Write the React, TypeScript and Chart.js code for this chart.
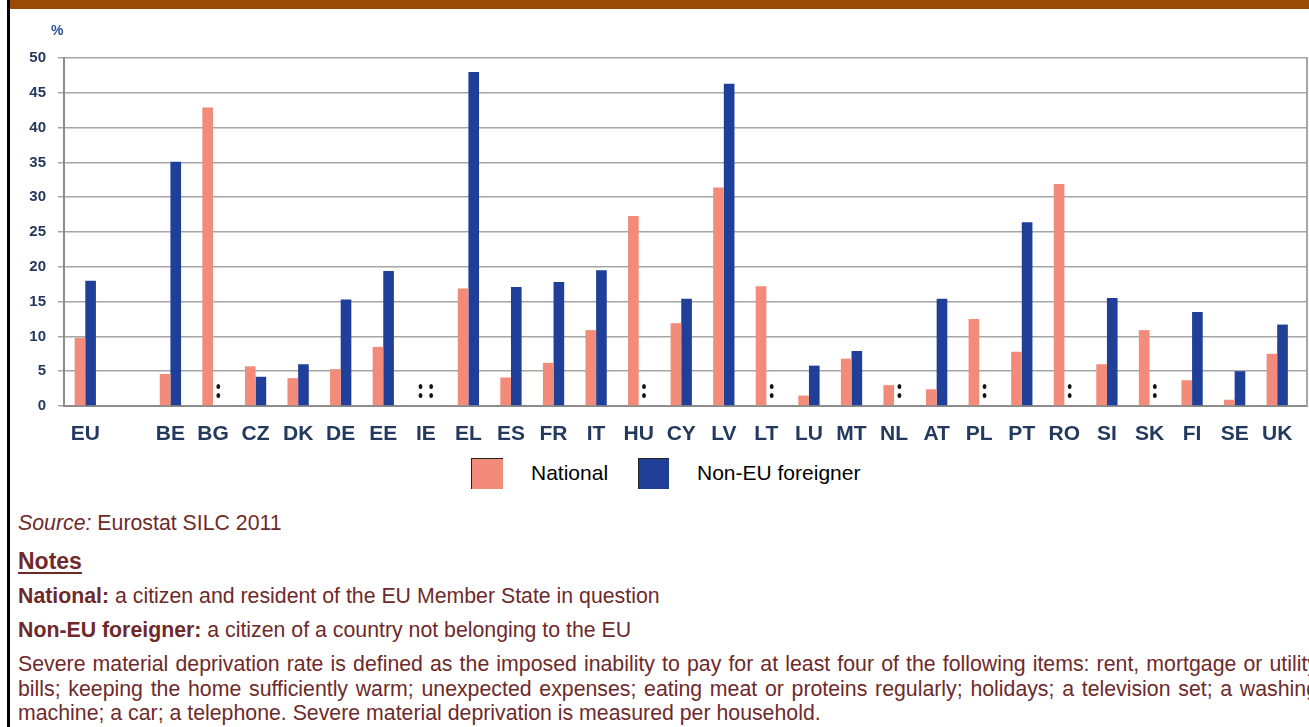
import React, { useEffect, useRef } from 'react';
import { Chart, registerables } from 'chart.js';

Chart.register(...registerables);

// ---- data ----
const countries = ['EU', '', 'BE', 'BG', 'CZ', 'DK', 'DE', 'EE', 'IE', 'EL', 'ES', 'FR', 'IT', 'HU', 'CY', 'LV', 'LT', 'LU', 'MT', 'NL', 'AT', 'PL', 'PT', 'RO', 'SI', 'SK', 'FI', 'SE', 'UK'];
// null = not available (shown as ":")
const nationalValues = [9.8, null, 4.6, 42.9, 5.7, 4.0, 5.3, 8.5, null, 16.9, 4.1, 6.2, 10.9, 27.3, 11.9, 31.4, 17.2, 1.5, 6.8, 3.0, 2.4, 12.5, 7.8, 31.9, 6.0, 10.9, 3.7, 0.9, 7.5];
const nonEuValues = [18.0, null, 35.1, null, 4.2, 6.0, 15.3, 19.4, null, 48.0, 17.1, 17.8, 19.5, null, 15.4, 46.3, null, 5.8, 7.9, null, 15.4, null, 26.4, null, 15.5, null, 13.5, 5.0, 11.7];
const yTicks = [0, 5, 10, 15, 20, 25, 30, 35, 40, 45, 50];
const seriesLabels = ['National', 'Non-EU foreigner'];
const seriesColors = ['#f28b7a', '#1f3f99'];
const unitLabel = '%';
const sourceText = 'Eurostat SILC 2011';

// ---- styles ----
const FONT = '"Liberation Sans", Arial, Helvetica, sans-serif';
const TICK_COLOR = '#23395d';
const GRID_COLOR = '#a6a6a6';
const AXIS_COLOR = '#8c8c8c';
const NOTE_COLOR = '#6e2a2a';
const CAT_PCT = 0.5;

const naPlugin = {
  id: 'naMarks',
  afterDatasetsDraw(chart: any) {
    const xs = chart.scales.x;
    const ys = chart.scales.y;
    const ctx = chart.ctx;
    const base = ys.getPixelForValue(0);
    const unit = xs.getPixelForValue(1) - xs.getPixelForValue(0);
    const w = (unit * CAT_PCT) / 2;
    ctx.save();
    ctx.fillStyle = '#111';
    chart.data.datasets.forEach((ds: any, di: number) => {
      ds.data.forEach((pt: any, i: number) => {
        if (countries[i] === '' || pt.y !== null) return;
        const cx = xs.getPixelForValue(i) + (di === 0 ? -w / 2 : w / 2);
        [base - 19.5, base - 10.5].forEach((cy) => {
          ctx.beginPath();
          ctx.ellipse(cx, cy, 1.9, 2.6, 0, 0, Math.PI * 2);
          ctx.fill();
        });
      });
    });
    const { right, top, bottom } = chart.chartArea;
    ctx.strokeStyle = GRID_COLOR;
    ctx.lineWidth = 2;
    ctx.beginPath();
    ctx.moveTo(right, top - 1);
    ctx.lineTo(right, bottom);
    ctx.stroke();
    ctx.restore();
  },
};

function BarChart() {
  const ref = useRef<HTMLCanvasElement | null>(null);
  useEffect(() => {
    if (!ref.current) return;
    const mk = (vals: (number | null)[]) => vals.map((v, i) => ({ x: i, y: v }));
    const chart = new Chart(ref.current, {
      type: 'bar',
      data: {
        datasets: [
          { label: seriesLabels[0], data: mk(nationalValues) as any, backgroundColor: seriesColors[0], borderWidth: 0, categoryPercentage: CAT_PCT, barPercentage: 1 },
          { label: seriesLabels[1], data: mk(nonEuValues) as any, backgroundColor: seriesColors[1], borderWidth: 0, categoryPercentage: CAT_PCT, barPercentage: 1 },
        ],
      },
      options: {
        animation: false,
        responsive: true,
        maintainAspectRatio: false,
        layout: { padding: { top: 58, right: 2, left: 0, bottom: 0 } },
        plugins: { legend: { display: false }, tooltip: { enabled: false } },
        scales: {
          x: {
            type: 'linear',
            offset: false,
            min: -0.5,
            max: 28.7,
            grid: { display: false, offset: false },
            border: { display: true, color: AXIS_COLOR, width: 2 },
            afterBuildTicks: (s: any) => { s.ticks = countries.map((_, i) => ({ value: i })); },
            afterFit: (s: any) => { s.height = 44; },
            ticks: {
              autoSkip: false,
              maxRotation: 0,
              minRotation: 0,
              padding: 8,
              color: TICK_COLOR,
              font: { family: FONT, size: 21, weight: 'bold' },
              callback: (v: any) => countries[v as number] ?? '',
            },
          },
          y: {
            min: 0,
            max: 50,
            afterBuildTicks: (s: any) => { s.ticks = yTicks.map((v) => ({ value: v })); },
            afterFit: (s: any) => { s.width = 64; },
            grid: { color: GRID_COLOR, lineWidth: 1.5, tickLength: 6, drawTicks: true, tickColor: GRID_COLOR },
            border: { display: true, color: AXIS_COLOR, width: 2 },
            ticks: { padding: 12, color: TICK_COLOR, font: { family: FONT, size: 15, weight: 'bold' } },
          },
        },
      } as any,
      plugins: [naPlugin],
    });
    return () => chart.destroy();
  }, []);
  return <canvas ref={ref} />;
}

export default function App() {
  const line: React.CSSProperties = { position: 'absolute', left: 18, fontSize: 21.3, lineHeight: '24px', color: NOTE_COLOR, whiteSpace: 'nowrap' };
  const just: React.CSSProperties = { width: 1300, textAlign: 'justify', textAlignLast: 'justify' as any, whiteSpace: 'normal', height: 24.5, overflow: 'visible' };
  return (
    <div style={{ position: 'fixed', left: 0, top: 0, width: 1309, height: 727, overflow: 'hidden', background: '#fff', fontFamily: FONT }}>
      <div style={{ position: 'absolute', left: 0, top: 0, width: 1309, height: 450 }}>
        <BarChart />
      </div>
      <div style={{ position: 'absolute', left: 7, top: 0, width: 3, height: 727, background: '#000' }} />
      <div style={{ position: 'absolute', left: 10, top: 0, right: 0, height: 9, background: '#9b4a05' }} />
      <div style={{ position: 'absolute', left: 51, top: 22, fontSize: 14, lineHeight: '16px', fontWeight: 'bold', color: '#2f5597' }}>{unitLabel}</div>

      {/* legend */}
      <div style={{ position: 'absolute', left: 471, top: 458, width: 31, height: 30, background: seriesColors[0], borderLeft: '1px solid #222', borderTop: '1px solid #222' }} />
      <div style={{ position: 'absolute', left: 531, top: 461, fontSize: 21, lineHeight: '24px', color: '#000' }}>{seriesLabels[0]}</div>
      <div style={{ position: 'absolute', left: 638, top: 458, width: 30, height: 30, background: seriesColors[1], borderLeft: '1px solid #222', borderTop: '1px solid #222' }} />
      <div style={{ position: 'absolute', left: 697, top: 461, fontSize: 21, lineHeight: '24px', color: '#000' }}>{seriesLabels[1]}</div>

      {/* notes */}
      <div style={{ ...line, top: 511.2 }}><i>Source:</i> {sourceText}</div>
      <div style={{ ...line, top: 547.5, fontSize: 23, lineHeight: '27px', fontWeight: 'bold', textDecoration: 'underline', textDecorationThickness: 2, textUnderlineOffset: 3 }}>Notes</div>
      <div style={{ ...line, top: 583.7 }}><b>National:</b> a citizen and resident of the EU Member State in question</div>
      <div style={{ ...line, top: 617.7 }}><b>Non-EU foreigner:</b> a citizen of a country not belonging to the EU</div>
      <div style={{ ...line, top: 652.3, lineHeight: '24.2px' }}>
        <div style={just}>Severe material deprivation rate is defined as the imposed inability to pay for at least four of the following items: rent, mortgage or utility</div>
        <div style={just}>bills; keeping the home sufficiently warm; unexpected expenses; eating meat or proteins regularly; holidays; a television set; a washing</div>
        <div>machine; a car; a telephone. Severe material deprivation is measured per household.</div>
      </div>
    </div>
  );
}
